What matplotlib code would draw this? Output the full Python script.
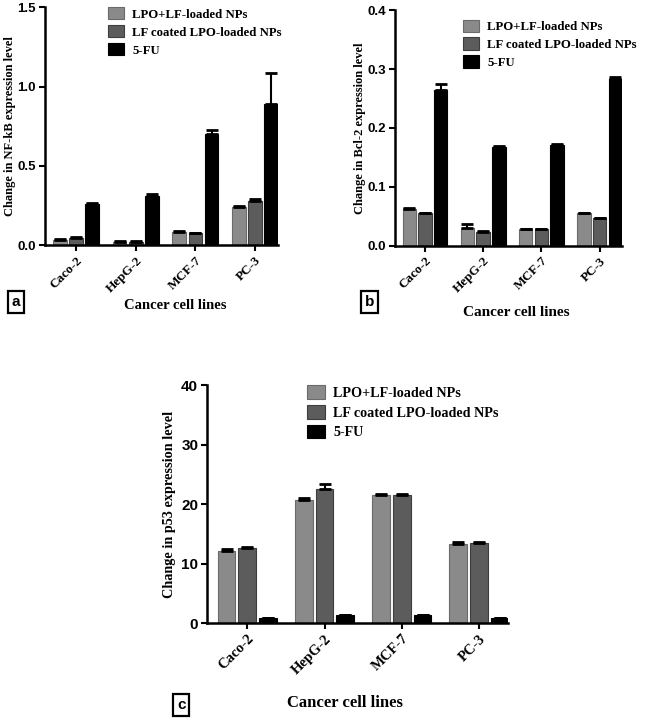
import numpy as np
import matplotlib
matplotlib.use("Agg")
import matplotlib.pyplot as plt

cells = ["Caco-2", "HepG-2", "MCF-7", "PC-3"]
series = ["LPO+LF-loaded NPs", "LF coated LPO-loaded NPs", "5-FU"]

nfkb_lpolf = [0.035, 0.020, 0.085, 0.240]
nfkb_lfcoat = [0.045, 0.020, 0.075, 0.280]
nfkb_5fu = [0.260, 0.310, 0.700, 0.890]
nfkb_err_lpolf = [0.005, 0.003, 0.007, 0.007]
nfkb_err_lfcoat = [0.005, 0.003, 0.004, 0.010]
nfkb_err_5fu = [0.006, 0.010, 0.025, 0.195]

bcl2_lpolf = [0.063, 0.031, 0.028, 0.055]
bcl2_lfcoat = [0.055, 0.023, 0.028, 0.047]
bcl2_5fu = [0.265, 0.168, 0.171, 0.283]
bcl2_err_lpolf = [0.001, 0.006, 0.001, 0.001]
bcl2_err_lfcoat = [0.001, 0.002, 0.001, 0.001]
bcl2_err_5fu = [0.010, 0.001, 0.001, 0.003]

p53_lpolf = [12.2, 20.7, 21.6, 13.4]
p53_lfcoat = [12.6, 22.6, 21.6, 13.5]
p53_5fu = [0.8, 1.4, 1.4, 0.8]
p53_err_lpolf = [0.3, 0.4, 0.2, 0.2]
p53_err_lfcoat = [0.3, 0.8, 0.2, 0.2]
p53_err_5fu = [0.05, 0.05, 0.05, 0.05]

colors = ["#8a8a8a", "#5c5c5c", "#000000"]
edges = ["#6a6a6a", "#3e3e3e", "#000000"]

SERIF = "Liberation Serif"
SANS = "Liberation Sans"

fig = plt.figure(figsize=(6.6, 7.23), dpi=100)


def panel(rect, vals, errs, ylim, yticks, ytl, ylabel, ylab_x, letter, letter_pos, xlab_pos,
          leg_anchor, fs_leg, fs_ytick, fs_xtick, fs_ylab, fs_xlab):
    ax = fig.add_axes(rect)
    x = np.arange(len(cells))
    w = 0.23
    offs = [-0.27, 0.0, 0.27]
    handles = []
    for i in range(3):
        v = np.array(vals[i])
        e = np.array(errs[i])
        b = ax.bar(x + offs[i], v, w, color=colors[i], edgecolor=edges[i], linewidth=0.8,
                   label=series[i], zorder=2)
        ax.errorbar(x + offs[i], v, yerr=[np.zeros_like(e), e], fmt="none", ecolor="black",
                    elinewidth=1.5, capsize=4.5, capthick=2, zorder=3)
        handles.append(b)
    ax.set_xlim(-0.52, 3.38)
    ax.set_ylim(*ylim)
    ax.set_yticks(yticks)
    ax.set_yticklabels(ytl, fontfamily=SANS, fontweight="bold", fontsize=fs_ytick)
    ax.set_xticks(x)
    ax.set_xticklabels(cells, rotation=45, ha="right", rotation_mode="anchor",
                       fontfamily=SERIF, fontweight="bold", fontsize=fs_xtick)
    for s in ["top", "right"]:
        ax.spines[s].set_visible(False)
    for s in ["left", "bottom"]:
        ax.spines[s].set_linewidth(1.8)
    ax.tick_params(axis="both", width=1.5, length=4, direction="out", pad=2.5)
    ax.set_ylabel(ylabel, fontfamily=SERIF, fontweight="bold", fontsize=fs_ylab)
    ax.yaxis.set_label_coords(ylab_x, 0.5)
    ax.legend(handles=handles, loc="upper left", bbox_to_anchor=leg_anchor,
              frameon=False, prop={"family": SERIF, "weight": "bold", "size": fs_leg},
              handlelength=1.3, handleheight=1.1, handletextpad=0.6, labelspacing=0.35,
              borderaxespad=0, borderpad=0)
    fig.text(xlab_pos[0], xlab_pos[1], "Cancer cell lines", ha="center", va="center",
             fontfamily=SERIF, fontweight="bold", fontsize=fs_xlab)
    fig.text(letter_pos[0], letter_pos[1], letter, ha="left", va="center",
             fontfamily=SANS, fontweight="bold", fontsize=11,
             bbox=dict(boxstyle="square,pad=0.25", facecolor="white", edgecolor="black",
                       linewidth=1.6))
    return ax


panel([0.068, 0.661, 0.353, 0.329],
      [nfkb_lpolf, nfkb_lfcoat, nfkb_5fu],
      [nfkb_err_lpolf, nfkb_err_lfcoat, nfkb_err_5fu],
      (0, 1.5), [0, 0.5, 1.0, 1.5], ["0.0", "0.5", "1.0", "1.5"],
      "Change in NF-kB expression level", -0.125, "a", (0.018, 1 - 302 / 723),
      (175 / 660, 1 - 305 / 723), (0.27, 1.0), 9.2, 9.5, 9.5, 9, 10.5)

panel([0.598, 0.660, 0.344, 0.326],
      [bcl2_lpolf, bcl2_lfcoat, bcl2_5fu],
      [bcl2_err_lpolf, bcl2_err_lfcoat, bcl2_err_5fu],
      (0, 0.4), [0, 0.1, 0.2, 0.3, 0.4], ["0.0", "0.1", "0.2", "0.3", "0.4"],
      "Change in Bcl-2 expression level", -0.128, "b", (0.553, 1 - 302 / 723),
      (516 / 660, 1 - 312 / 723), (0.30, 0.96), 9.2, 9.5, 9.5, 9, 11)

panel([0.314, 0.138, 0.456, 0.329],
      [p53_lpolf, p53_lfcoat, p53_5fu],
      [p53_err_lpolf, p53_err_lfcoat, p53_err_5fu],
      (0, 40), [0, 10, 20, 30, 40], ["0", "10", "20", "30", "40"],
      "Change in p53 expression level", -0.103, "c", (0.268, 1 - 705 / 723),
      (345 / 660, 1 - 703 / 723), (0.33, 1.0), 10.2, 11, 10.5, 10.3, 12)

fig.savefig("out.png", dpi=100)
